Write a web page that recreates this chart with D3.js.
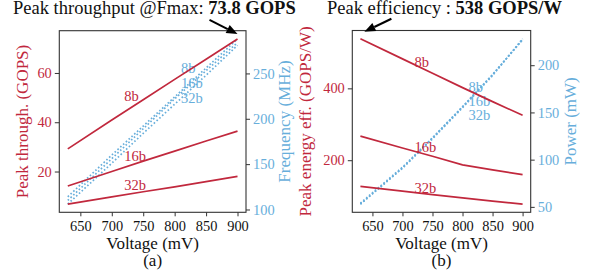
<!DOCTYPE html>
<html>
<head>
<meta charset="utf-8">
<script src="https://cdn.jsdelivr.net/npm/d3@7"></script>
<style>
body{margin:0;background:#fff}
svg text{font-family:"Liberation Serif","Times New Roman",Tinos,Times,serif}
</style>
</head>
<body>
<svg id="chart" width="598" height="270"></svg>
<script>
// values
var voltage = [630, 700, 750, 800, 850, 900];
var bitLabels = ["8b", "16b", "32b"];

var thr8  = [29.2, 40.9, 49.1, 57.4, 65.6, 73.8];
var thr16 = [14.1, 20.0, 24.2, 28.3, 32.4, 36.4];
var thr32 = [6.8, 9.7, 11.8, 13.8, 15.9, 18.0];

var freq8  = [114, 160, 192, 224, 256, 288];
var freq16 = [110, 156, 189, 222, 253, 284];
var freq32 = [106, 151, 184, 216, 248, 281];

var eff8  = [538, 482, 442, 402, 363, 325];
var eff16 = [267, 234, 211, 187, 173, 160];
var eff32 = [127, 114, 104, 95, 86, 78];

var pow8  = [54, 92, 123, 156, 190, 227];
var pow16 = [53, 91, 123, 156, 190, 227];
var pow32 = [53, 91, 122, 155, 189, 228];

var xTicks = [650, 700, 750, 800, 850, 900];
var thrTicks = [20, 40, 60];
var freqTicks = [100, 150, 200, 250];
var effTicks = [200, 400];
var powTicks = [50, 100, 150, 200];

// label anchor points (data coords)
var thrLabelY = [48.5, 24.3, 12.6];
var freqLabelY = [250, 234, 217];
var effLabelY = [459, 223, 109];
var powLabelY = [172, 157, 142];

var red = "#c1283d";
var blue = "#67aedb";
var serif = "'Liberation Serif','Times New Roman',Tinos,Times,serif";

var svg = d3.select("#chart");

function padded(arrs) {
  var all = [].concat.apply([], arrs);
  var lo = d3.min(all), hi = d3.max(all);
  var m = (hi - lo) * 0.05;
  return [lo - m, hi + m];
}

function drawPanel(cfg) {
  var g = svg.append("g");
  var box = cfg.box;

  var x = d3.scaleLinear().domain(padded([voltage])).range([box.left, box.right]);
  var yL = d3.scaleLinear().domain(padded(cfg.leftData)).range([box.bottom, box.top]);
  var yR = d3.scaleLinear().domain(padded(cfg.rightData)).range([box.bottom, box.top]);

  // right (blue, dotted) series
  cfg.rightData.forEach(function (vals) {
    var line = d3.line().x(function (d, i) { return x(voltage[i]); }).y(function (d) { return yR(d); });
    g.append("path")
      .datum(vals)
      .attr("fill", "none")
      .attr("stroke", blue)
      .attr("stroke-width", 1.7)
      .style("stroke-dasharray", "1.6,2.2")
      .attr("d", line);
  });
  bitLabels.forEach(function (b, i) {
    g.append("text")
      .attr("x", x(810))
      .attr("y", yR(cfg.rightLabelY[i]))
      .attr("fill", blue)
      .style("font-size", "14.5px")
      .text(b);
  });

  // left (red, solid) series
  cfg.leftData.forEach(function (vals) {
    var line = d3.line().x(function (d, i) { return x(voltage[i]); }).y(function (d) { return yL(d); });
    g.append("path")
      .datum(vals)
      .attr("fill", "none")
      .attr("stroke", red)
      .attr("stroke-width", 1.7)
      .attr("d", line);
  });
  bitLabels.forEach(function (b, i) {
    g.append("text")
      .attr("x", x(720))
      .attr("y", yL(cfg.leftLabelY[i]))
      .attr("fill", red)
      .style("font-size", "14.5px")
      .text(b);
  });

  // frame
  g.append("rect")
    .attr("x", box.left).attr("y", box.top)
    .attr("width", box.right - box.left).attr("height", box.bottom - box.top)
    .attr("fill", "none").attr("stroke", "#333").attr("stroke-width", 1.1);

  var xAxis = d3.axisBottom(x).tickValues(xTicks).tickSize(4).tickPadding(4).tickFormat(d3.format("d"));
  var xg = g.append("g").attr("transform", "translate(0," + box.bottom + ")").call(xAxis);
  styleAxis(xg, "#111");

  var lAxis = d3.axisLeft(yL).tickValues(cfg.leftTicks).tickSize(4.5).tickPadding(3).tickFormat(d3.format("d"));
  var lg = g.append("g").attr("transform", "translate(" + box.left + ",0)").call(lAxis);
  styleAxis(lg, red);

  var rAxis = d3.axisRight(yR).tickValues(cfg.rightTicks).tickSize(4).tickPadding(3).tickFormat(d3.format("d"));
  var rg = g.append("g").attr("transform", "translate(" + box.right + ",0)").call(rAxis);
  styleAxis(rg, blue);

  var cx = (box.left + box.right) / 2;
  var cy = (box.top + box.bottom) / 2;
  g.append("text").attr("x", cx).attr("y", 249).attr("text-anchor", "middle")
    .style("font-size", "17px").attr("fill", "#111").text("Voltage (mV)");
  g.append("text").attr("x", cx).attr("y", 266).attr("text-anchor", "middle")
    .style("font-size", "17px").attr("fill", "#111").text(cfg.tag);

  g.append("text").attr("transform", "translate(" + cfg.leftLabelX + "," + cy + ") rotate(-90)")
    .attr("text-anchor", "middle").style("font-size", "17px").attr("fill", red).text(cfg.leftLabel);
  g.append("text").attr("transform", "translate(" + cfg.rightLabelX + "," + cy + ") rotate(-90)")
    .attr("text-anchor", "middle").style("font-size", "17px").attr("fill", blue).text(cfg.rightLabel);

  // title
  var t = g.append("text").attr("x", cfg.titleX).attr("y", 14).style("font-size", "18.5px").attr("fill", "#111");
  t.append("tspan").text(cfg.title);
  t.append("tspan").style("font-weight", "bold").text(cfg.titleBold);

  // arrow pointing at the peak value
  var px = x(cfg.peak[0]) + cfg.tipOff[0];
  var py = yL(cfg.peak[1]) + cfg.tipOff[1];
  arrow(g, px + cfg.tail[0], py + cfg.tail[1], px, py);
}

function styleAxis(ag, col) {
  ag.select(".domain").remove();
  ag.selectAll(".tick line").attr("stroke", "#333").attr("stroke-width", 1);
  ag.selectAll(".tick text").attr("fill", col).style("font-size", "14.4px")
    .style("font-family", serif);
}

function arrow(g, x1, y1, x2, y2) {
  var ang = Math.atan2(y2 - y1, x2 - x1);
  var len = 11, w = 4.5;
  var bx = x2 - len * Math.cos(ang), by = y2 - len * Math.sin(ang);
  g.append("line").attr("x1", x1).attr("y1", y1).attr("x2", bx).attr("y2", by)
    .attr("stroke", "#000").attr("stroke-width", 2);
  var pts = [
    [x2, y2],
    [bx + w * Math.sin(ang), by - w * Math.cos(ang)],
    [bx - w * Math.sin(ang), by + w * Math.cos(ang)]
  ];
  g.append("polygon").attr("points", pts.map(function (p) { return p.join(","); }).join(" ")).attr("fill", "#000");
}

drawPanel({
  box: {left: 59.3, right: 246, top: 30.7, bottom: 212.3},
  leftData: [thr8, thr16, thr32],
  rightData: [freq8, freq16, freq32],
  leftTicks: thrTicks, rightTicks: freqTicks,
  leftLabelY: thrLabelY, rightLabelY: freqLabelY,
  leftLabel: "Peak through. (GOPS)", rightLabel: "Frequency (MHz)",
  leftLabelX: 28, rightLabelX: 290,
  tag: "(a)",
  titleX: 13, title: "Peak throughput @Fmax: ", titleBold: "73.8 GOPS",
  peak: [900, 73.8], tipOff: [0, -5], tail: [-28, -14]
});

drawPanel({
  box: {left: 352.3, right: 530.7, top: 30.5, bottom: 212.3},
  leftData: [eff8, eff16, eff32],
  rightData: [pow8, pow16, pow32],
  leftTicks: effTicks, rightTicks: powTicks,
  leftLabelY: effLabelY, rightLabelY: powLabelY,
  leftLabel: "Peak energy eff. (GOPS/W)", rightLabel: "Power (mW)",
  leftLabelX: 311, rightLabelX: 575.5,
  tag: "(b)",
  titleX: 327, title: "Peak efficiency : ", titleBold: "538 GOPS/W",
  peak: [630, 538], tipOff: [4, -7], tail: [27, -13]
});
</script>
</body>
</html>
